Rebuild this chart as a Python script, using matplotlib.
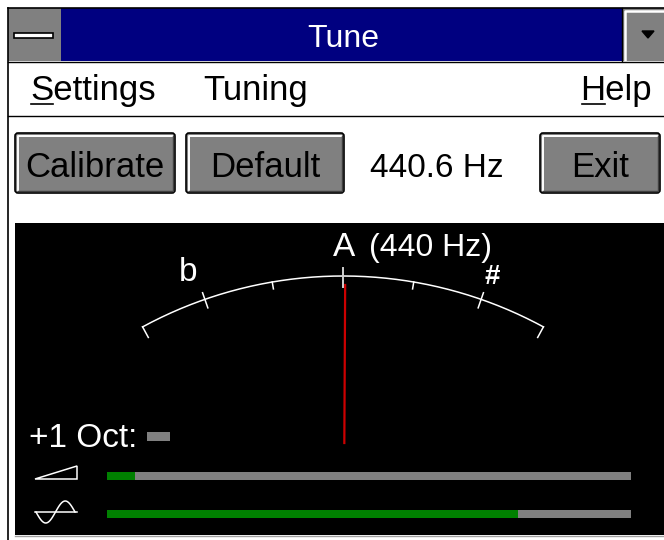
import numpy as np
import matplotlib.pyplot as plt
from matplotlib.patches import Rectangle, FancyBboxPatch, Polygon

plt.rcParams['font.family'] = ['Liberation Sans', 'DejaVu Sans']

# window content
title = "Tune"
menu_items = ["Settings", "Tuning", "Help"]
menu_x = [30, 203, 580]
buttons = ["Calibrate", "Default", "Exit"]
button_x = [15, 186, 540]
button_w = [160, 158, 120]
freq_hz = 440.6
ref_note = "A"
ref_hz = 440

# meter scale
tick_deg = [-28.5, -19.2, -9.7, 0, 9.7, 19.2, 28.5]
tick_kind = ["end", "major", "minor", "center", "minor", "major", "end"]
flat_label, sharp_label = "b", "#"
needle_deg = 0.3

# level meters (fraction of full scale)
level_names = ["volume", "signal"]
level_values = [0.053, 0.784]
octave_label = "+1 Oct:"

fig = plt.figure(figsize=(6.64, 5.4), dpi=100)
ax = fig.add_axes([0, 0, 1, 1])
ax.set_xlim(0, 664)
ax.set_ylim(540, 0)
ax.axis("off")
fig.patch.set_facecolor("white")

FS = 25
GRAY = "#808080"
NAVY = "#000080"

# window frame and title bar
ax.add_patch(Rectangle((8, 8), 700, 53, facecolor=NAVY, edgecolor="none"))
ax.add_patch(Rectangle((8, 8), 53, 53, facecolor=GRAY, edgecolor="none"))
ax.add_patch(Rectangle((13.5, 32.5), 39, 5, facecolor="white", edgecolor="black", lw=1.2))
ax.add_patch(Rectangle((622, 8), 50, 53, facecolor=GRAY, edgecolor="none"))
ax.plot([625, 625, 670], [61, 10.5, 10.5], color="white", lw=1.8)
ax.plot([622, 622], [8, 61], color="black", lw=1)
ax.add_patch(Polygon([[642, 31], [654, 31], [648, 38]], closed=True, color="black"))
ax.plot([7.5, 7.5], [7.5, 540], color="black", lw=1.2)
ax.plot([7.5, 664], [7.5, 7.5], color="black", lw=1.2)
ax.plot([7.5, 664], [61.5, 61.5], color="black", lw=1)
ax.plot([7.5, 664], [115.5, 115.5], color="black", lw=1)
ax.text(343, 47, title, color="white", fontsize=23, ha="center", va="baseline")

# menu bar
for name, x in zip(menu_items, menu_x):
    ax.text(x, 100, name, color="black", fontsize=FS, ha="left", va="baseline")
ax.plot([31, 53], [104, 104], color="black", lw=1.2)
ax.plot([582, 605], [104, 104], color="black", lw=1.2)

# buttons
def button(x, w, label):
    y, h = 133, 60
    ax.add_patch(FancyBboxPatch((x, y), w, h, boxstyle="round,pad=0,rounding_size=3",
                                facecolor=GRAY, edgecolor="black", lw=1.2))
    ax.plot([x + 2.5, x + 2.5, x + w - 3], [y + h - 3, y + 2.5, y + 2.5], color="white", lw=1.4)
    ax.plot([x + 3, x + w - 2.5, x + w - 2.5], [y + h - 2.5, y + h - 2.5, y + 3], color="#404040", lw=1)
    ax.text(x + w / 2, 177, label, color="black", fontsize=FS, ha="center", va="baseline")

for label, x, w in zip(buttons, button_x, button_w):
    button(x, w, label)
ax.text(437, 177, f"{freq_hz:.1f} Hz", color="black", fontsize=FS - 1, ha="center", va="baseline")

# black display panel
ax.add_patch(Rectangle((15, 223), 660, 312, facecolor="black", edgecolor="none"))
ax.plot([15, 664], [536, 536], color="#a0a0a0", lw=1)

# meter arc
cx, cy, R = 343, 696, 420
th = np.radians(np.linspace(tick_deg[0], tick_deg[-1], 200))
ax.plot(cx + R * np.sin(th), cy - R * np.cos(th), color="white", lw=1.1)

def radial(deg, r0, r1, color="white", lw=1.1):
    t = np.radians(deg)
    ax.plot([cx + r0 * np.sin(t), cx + r1 * np.sin(t)],
            [cy - r0 * np.cos(t), cy - r1 * np.cos(t)], color=color, lw=lw)

for d, kind in zip(tick_deg, tick_kind):
    if kind == "center":
        radial(d, R - 11, R + 8, color="#d0d0d0", lw=1.4)
    elif kind == "major":
        radial(d, R - 9, R + 7)
    elif kind == "minor":
        radial(d, R - 7, R)
    else:
        radial(d, R - 12, R)

ax.text(188, 281, flat_label, color="white", fontsize=FS - 1, ha="center", va="baseline")
ax.text(492, 284, sharp_label, color="white", fontsize=FS - 5, ha="center", va="baseline",
        fontweight="bold")
ax.text(344, 256, ref_note, color="white", fontsize=FS - 1, ha="center", va="baseline")
ax.text(369, 256, f"({ref_hz} Hz)", color="white", fontsize=FS - 2, ha="left", va="baseline")

# needle
radial(needle_deg, R - 9, 253, color="#cc0000", lw=1.6)

# octave indicator
ax.text(29, 447, octave_label, color="white", fontsize=FS - 1, ha="left", va="baseline")
ax.add_patch(Rectangle((147, 432), 23, 9, facecolor=GRAY, edgecolor="none"))

# level icons
ax.add_patch(Polygon([[35, 479], [77, 479], [77, 466]], closed=True, fill=False,
                     edgecolor="white", lw=1.1))
sx = np.linspace(36, 75, 80)
ax.plot(sx, 512 + 11 * np.sin(2 * np.pi * (sx - 36) / 39), color="white", lw=1.1)
ax.plot([35, 77], [512, 512], color="white", lw=1.1)

# level bars
bar_x0, bar_x1 = 107, 631
bar_y = [472, 510]
for val, y in zip(level_values, bar_y):
    ax.add_patch(Rectangle((bar_x0, y), bar_x1 - bar_x0, 8, facecolor=GRAY, edgecolor="none"))
    ax.add_patch(Rectangle((bar_x0, y), (bar_x1 - bar_x0) * val, 8, facecolor="#008000",
                           edgecolor="none"))

fig.savefig("out.png", dpi=100, facecolor="white")
